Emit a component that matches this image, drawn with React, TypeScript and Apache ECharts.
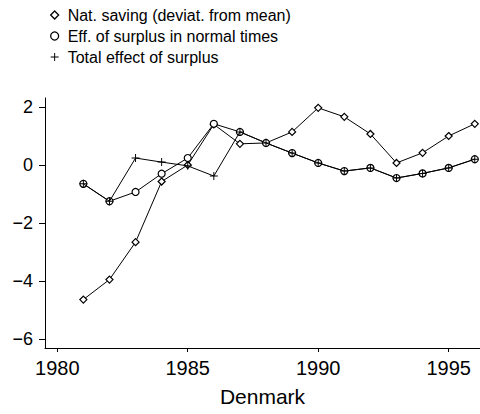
import React, { useEffect, useRef } from "react";
import * as echarts from "echarts";

const years = [1981, 1982, 1983, 1984, 1985, 1986, 1987, 1988, 1989, 1990, 1991, 1992, 1993, 1994, 1995, 1996];
const natSaving = [-4.64, -3.95, -2.66, -0.57, 0.0, 1.4, 0.73, 0.76, 1.14, 1.97, 1.66, 1.07, 0.07, 0.42, 1.0, 1.42];
const effSurplus = [-0.65, -1.25, -0.93, -0.3, 0.24, 1.42, 1.14, 0.76, 0.41, 0.07, -0.21, -0.1, -0.45, -0.29, -0.1, 0.2];
const totalEffect = [-0.65, -1.25, 0.24, 0.1, -0.03, -0.38, 1.14, 0.76, 0.41, 0.07, -0.21, -0.1, -0.45, -0.29, -0.1, 0.2];
const xTicks = [1980, 1985, 1990, 1995];
const yTicks = [-6, -4, -2, 0, 2];
const seriesNames = [
  "Nat. saving (deviat. from mean)",
  "Eff. of surplus in normal times",
  "Total effect of surplus",
];

const FONT = "'Liberation Sans', Arial, Helvetica, sans-serif";
const PLUS = "path://M4.4,0H5.6V4.4H10V5.6H5.6V10H4.4V5.6H0V4.4H4.4Z";

const pair = (vals: number[]) => years.map((y, i) => [y, vals[i]]);

export default function App() {
  const ref = useRef<HTMLDivElement>(null);
  useEffect(() => {
    if (!ref.current) return;
    const chart = echarts.init(ref.current, null, { renderer: "svg" });
    const lineStyle = { color: "#000", width: 1 };
    chart.setOption({
      animation: false,
      backgroundColor: "#fff",
      textStyle: { fontFamily: FONT },
      legend: {
        orient: "vertical",
        left: 45,
        top: 2,
        itemWidth: 8,
        itemHeight: 8,
        itemGap: 5,
        textStyle: { fontSize: 16, color: "#000", fontFamily: FONT, padding: [0, 0, 0, 4], lineHeight: 16 },
        data: [
          { name: seriesNames[0], icon: "diamond", itemStyle: { color: "#fff", borderColor: "#000", borderWidth: 1.3 } },
          { name: seriesNames[1], icon: "circle", itemStyle: { color: "#fff", borderColor: "#000", borderWidth: 1.3 } },
          { name: seriesNames[2], icon: PLUS, itemStyle: { color: "#000", borderWidth: 0 } },
        ],
      },
      grid: { left: 45, right: 0, top: 98, bottom: 66, containLabel: false },
      xAxis: {
        type: "value",
        min: 1979.53,
        max: 1996.2,
        name: "Denmark",
        nameLocation: "middle",
        nameGap: 38,
        nameTextStyle: { fontSize: 21, color: "#000", fontFamily: FONT },
        axisLine: { onZero: false, lineStyle: { color: "#000", width: 1 } },
        axisTick: { customValues: xTicks, length: 4, lineStyle: { color: "#000" } },
        axisLabel: {
          customValues: xTicks,
          fontSize: 20,
          color: "#000",
          margin: 10,
          fontFamily: FONT,
          formatter: (v: number) => String(v),
        },
        splitLine: { show: false },
      },
      yAxis: {
        type: "value",
        min: -6.31,
        max: 2.31,
        axisLine: { show: true, onZero: false, lineStyle: { color: "#000", width: 1 } },
        axisTick: { show: true, customValues: yTicks, length: 6, lineStyle: { color: "#000" } },
        axisLabel: {
          customValues: yTicks,
          fontSize: 18,
          color: "#000",
          margin: 12,
          fontFamily: FONT,
          formatter: (v: number) => String(v).replace("-", "\u2212"),
        },
        splitLine: { show: false },
      },
      series: [
        {
          name: seriesNames[0],
          type: "line",
          data: pair(natSaving),
          symbol: "diamond",
          symbolSize: 7,
          itemStyle: { color: "#fff", borderColor: "#000", borderWidth: 1.2 },
          lineStyle,
          z: 3,
        },
        {
          name: seriesNames[1],
          type: "line",
          data: pair(effSurplus),
          symbol: "circle",
          symbolSize: 7,
          itemStyle: { color: "#fff", borderColor: "#000", borderWidth: 1.2 },
          lineStyle,
          z: 4,
        },
        {
          name: seriesNames[2],
          type: "line",
          data: pair(totalEffect),
          symbol: PLUS,
          symbolSize: 8,
          itemStyle: { color: "#000", borderWidth: 0 },
          lineStyle,
          z: 5,
        },
      ],
    });
    return () => chart.dispose();
  }, []);
  return (
    <div
      ref={ref}
      style={{ position: "fixed", left: 0, top: 0, width: 480, height: 414, background: "#fff" }}
    />
  );
}
